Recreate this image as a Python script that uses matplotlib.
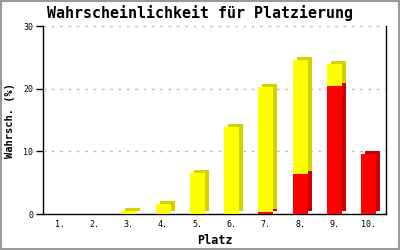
import matplotlib
matplotlib.use("Agg")
import matplotlib.pyplot as plt
import matplotlib.transforms as mtransforms
from matplotlib.patches import Rectangle
import numpy as np

places = ["1.", "2.", "3.", "4.", "5.", "6.", "7.", "8.", "9.", "10."]
red_vals = [0, 0, 0, 0, 0, 0, 0.25, 6.4, 20.4, 9.6]
yellow_vals = [0, 0, 0.5, 1.65, 6.6, 13.9, 20.05, 18.15, 3.5, 0]
yticks = [0, 10, 20, 30]

fig = plt.figure(figsize=(4, 2.5), dpi=100)
ax = fig.add_axes([0.1075, 0.144, 0.8575, 0.752])

x = np.arange(1, len(places) + 1)
w = 0.44
shift = mtransforms.ScaledTranslation(4 / 100, 3 / 100, fig.dpi_scale_trans)
sh_tr = ax.transData + shift

red_c, red_s = "#ff0000", "#cc0000"
yel_c, yel_s = "#ffff00", "#d2d200"

for xi, r, yv in zip(x, red_vals, yellow_vals):
    if r > 0:
        ax.bar(xi, r, width=w, color=red_s, transform=sh_tr, zorder=2, linewidth=0)
    if yv > 0:
        ax.bar(xi, yv, bottom=r, width=w, color=yel_s, transform=sh_tr, zorder=2, linewidth=0)
ax.bar(x, red_vals, width=w, color=red_c, zorder=3, linewidth=0)
ax.bar(x, yellow_vals, bottom=red_vals, width=w, color=yel_c, zorder=3, linewidth=0)

ax.set_xlim(0.5, 10.5)
ax.set_ylim(0, 30)
ax.set_yticks(yticks)
ax.set_yticklabels([str(t) for t in yticks], fontsize=6, family="DejaVu Sans Mono")
ax.set_xticks(x)
ax.set_xticklabels(places, fontsize=6, family="DejaVu Sans Mono")
ax.tick_params(axis="x", length=0, pad=4)
ax.tick_params(axis="y", length=5, width=1, pad=2, direction="out")
ax.grid(axis="y", color="#bbbbbb", linestyle=(0, (2, 4)), linewidth=1, zorder=1)
ax.set_axisbelow(True)
ax.spines["top"].set_visible(False)
for s in ["left", "bottom", "right"]:
    ax.spines[s].set_linewidth(1)
    ax.spines[s].set_color("black")

ax.set_xlabel("Platz", fontsize=8.5, family="DejaVu Sans Mono", fontweight="bold", labelpad=4)
ax.set_ylabel("Wahrsch. (%)", fontsize=7.5, family="DejaVu Sans Mono", fontweight="bold", labelpad=6)
fig.text(0.5, 0.948, "Wahrscheinlichkeit für Platzierung", ha="center", va="center",
         fontsize=10.8, family="DejaVu Sans Mono", fontweight="bold")

fig.patches.append(Rectangle((0.0015, 0.0025), 0.997, 0.995, transform=fig.transFigure,
                             fill=False, edgecolor="#999999", linewidth=1.5))

fig.savefig("out.png", dpi=100)
